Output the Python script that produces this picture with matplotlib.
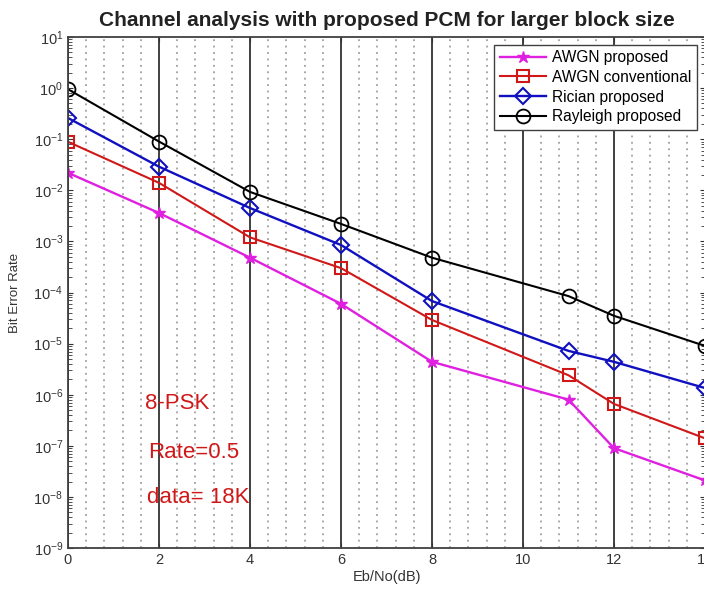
import numpy as np
from matplotlib import pyplot as plt
from matplotlib.ticker import MultipleLocator, LogLocator

plt.rcParams['font.family'] = ['Liberation Sans', 'DejaVu Sans']
plt.rcParams['mathtext.fontset'] = 'custom'
plt.rcParams['mathtext.rm'] = 'Liberation Sans'

ebno = [0, 2, 4, 6, 8, 11, 12, 14]
awgnProposto = [2.2e-2, 3.6e-3, 4.8e-4, 6.0e-5, 4.4e-6, 8.0e-7, 9.0e-8, 2.1e-8]
awgnConvencional = [8.9e-2, 1.4e-2, 1.2e-3, 3.0e-4, 2.9e-5, 2.4e-6, 6.6e-7, 1.4e-7]
ricianProposto = [2.6e-1, 2.9e-2, 4.5e-3, 8.5e-4, 6.8e-5, 7.2e-6, 4.4e-6, 1.35e-6]
rayleighProposto = [9.5e-1, 9.0e-2, 9.3e-3, 2.2e-3, 4.8e-4, 8.5e-5, 3.5e-5, 9.0e-6]

fig = plt.figure(figsize=(7.04, 5.89), dpi=100)
ax = fig.add_axes([68/704, 1-548/589, 637/704, 511/589])

ax.semilogy(ebno, awgnProposto, '-*', color='#e020e0', lw=1.7, ms=9, label='AWGN proposed')
ax.semilogy(ebno, awgnConvencional, '-s', color='#d01818', lw=1.5, ms=9, mfc='none', mew=1.5, label='AWGN conventional')
ax.semilogy(ebno, ricianProposto, '-D', color='#1010c0', lw=1.7, ms=8, mfc='none', mew=1.5, label='Rician proposed')
ax.semilogy(ebno, rayleighProposto, '-o', color='black', lw=1.5, ms=10, mfc='none', mew=1.3, label='Rayleigh proposed')

ax.set_xlim(0, 14)
ax.set_ylim(1e-9, 1e1)
ax.xaxis.set_major_locator(MultipleLocator(2))
ax.xaxis.set_minor_locator(MultipleLocator(0.4))
ax.yaxis.set_major_locator(LogLocator(base=10, numticks=20))
ax.yaxis.set_minor_locator(LogLocator(base=10, subs=np.arange(2, 10), numticks=20))
ax.grid(True, which='major', axis='x', color='#404040', ls='-', lw=1.4)
ax.grid(True, which='minor', axis='x', color='#909090', ls=(0, (1.2, 3)), lw=1.1)
ax.tick_params(which='both', direction='in', top=True, right=True, labelsize=10.5, colors='#333333')
ax.tick_params(which='minor', length=3)
ax.tick_params(axis='x', which='minor', length=0)
for s in ax.spines.values():
  s.set_color('#404040')
  s.set_linewidth(1.3)

ax.set_title('Channel analysis with proposed PCM for larger block size', fontsize=15, fontweight='bold', color='#222222', pad=8)
ax.set_xlabel('Eb/No(dB)', fontsize=10.5, color='#333333', labelpad=2)
ax.set_ylabel('Bit Error Rate', fontsize=9.5, color='#333333', labelpad=9)

ax.text(1.7, 10**-6.18, '8-PSK', color='#d01818', fontsize=16, va='center')
ax.text(1.75, 10**-7.14, 'Rate=0.5', color='#d01818', fontsize=16, va='center')
ax.text(1.73, 10**-8.02, 'data= 18K', color='#d01818', fontsize=16, va='center')

leg = ax.legend(loc='upper right', fontsize=11.2, fancybox=False, edgecolor='#404040',
                framealpha=1, borderaxespad=0.5, handlelength=3, labelspacing=0.3, borderpad=0.35,
                handletextpad=0.4)
leg.get_frame().set_linewidth(1.0)

fig.savefig('out.png', dpi=100)
